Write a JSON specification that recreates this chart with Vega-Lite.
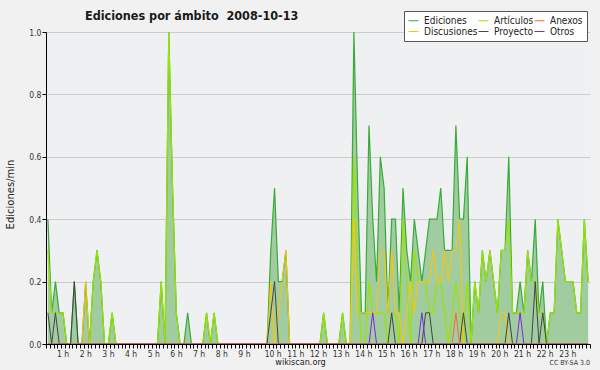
{
  "$schema": "https://vega.github.io/schema/vega-lite/v6.json",
  "width": 544,
  "height": 312,
  "autosize": {"type": "none"},
  "padding": {"left": 46, "top": 32, "right": 10, "bottom": 26},
  "background": "#f1f1f1",
  "title": {
    "text": "Ediciones por ámbito\u00a0 2008-10-13",
    "anchor": "start",
    "frame": "group",
    "dx": 39,
    "dy": 35,
    "offset": 13,
    "baseline": "alphabetic",
    "font": "DejaVu Sans Condensed, DejaVu Sans",
    "fontSize": 12.5,
    "fontWeight": "bold",
    "color": "#1a1a1a"
  },
  "config": {
    "view": {"fill": "#eef0f1", "stroke": null},
    "axis": {
      "labelFont": "DejaVu Sans Condensed, DejaVu Sans",
      "titleFont": "DejaVu Sans Condensed, DejaVu Sans",
      "domainColor": "#000000",
      "tickColor": "#000000",
      "labelColor": "#333333",
      "titleColor": "#222222"
    },
    "legend": {
      "labelFont": "DejaVu Sans Condensed, DejaVu Sans"
    }
  },
  "data": {
    "values": [
      {"t": 5, "ed": 0.4, "art": 0.3, "disc": 0, "proy": 0.1, "otros": 0, "anex": 0},
      {"t": 15, "ed": 0.1, "art": 0.1, "disc": 0, "proy": 0, "otros": 0, "anex": 0},
      {"t": 25, "ed": 0.2, "art": 0.1, "disc": 0, "proy": 0.1, "otros": 0, "anex": 0},
      {"t": 35, "ed": 0.1, "art": 0.1, "disc": 0, "proy": 0, "otros": 0, "anex": 0},
      {"t": 45, "ed": 0.1, "art": 0.1, "disc": 0, "proy": 0, "otros": 0, "anex": 0},
      {"t": 55, "ed": 0, "art": 0, "disc": 0, "proy": 0, "otros": 0, "anex": 0},
      {"t": 65, "ed": 0, "art": 0, "disc": 0, "proy": 0, "otros": 0, "anex": 0},
      {"t": 75, "ed": 0.2, "art": 0, "disc": 0, "proy": 0.2, "otros": 0, "anex": 0},
      {"t": 85, "ed": 0, "art": 0, "disc": 0, "proy": 0, "otros": 0, "anex": 0},
      {"t": 95, "ed": 0, "art": 0, "disc": 0, "proy": 0, "otros": 0, "anex": 0},
      {"t": 105, "ed": 0.2, "art": 0, "disc": 0.2, "proy": 0, "otros": 0, "anex": 0},
      {"t": 115, "ed": 0, "art": 0, "disc": 0, "proy": 0, "otros": 0, "anex": 0},
      {"t": 125, "ed": 0.2, "art": 0.2, "disc": 0, "proy": 0, "otros": 0, "anex": 0},
      {"t": 135, "ed": 0.3, "art": 0.3, "disc": 0, "proy": 0, "otros": 0, "anex": 0},
      {"t": 145, "ed": 0.2, "art": 0.2, "disc": 0, "proy": 0, "otros": 0, "anex": 0},
      {"t": 155, "ed": 0, "art": 0, "disc": 0, "proy": 0, "otros": 0, "anex": 0},
      {"t": 165, "ed": 0, "art": 0, "disc": 0, "proy": 0, "otros": 0, "anex": 0},
      {"t": 175, "ed": 0.1, "art": 0.1, "disc": 0, "proy": 0, "otros": 0, "anex": 0},
      {"t": 185, "ed": 0, "art": 0, "disc": 0, "proy": 0, "otros": 0, "anex": 0},
      {"t": 195, "ed": 0, "art": 0, "disc": 0, "proy": 0, "otros": 0, "anex": 0},
      {"t": 205, "ed": 0, "art": 0, "disc": 0, "proy": 0, "otros": 0, "anex": 0},
      {"t": 215, "ed": 0, "art": 0, "disc": 0, "proy": 0, "otros": 0, "anex": 0},
      {"t": 225, "ed": 0, "art": 0, "disc": 0, "proy": 0, "otros": 0, "anex": 0},
      {"t": 235, "ed": 0, "art": 0, "disc": 0, "proy": 0, "otros": 0, "anex": 0},
      {"t": 245, "ed": 0, "art": 0, "disc": 0, "proy": 0, "otros": 0, "anex": 0},
      {"t": 255, "ed": 0, "art": 0, "disc": 0, "proy": 0, "otros": 0, "anex": 0},
      {"t": 265, "ed": 0, "art": 0, "disc": 0, "proy": 0, "otros": 0, "anex": 0},
      {"t": 275, "ed": 0, "art": 0, "disc": 0, "proy": 0, "otros": 0, "anex": 0},
      {"t": 285, "ed": 0, "art": 0, "disc": 0, "proy": 0, "otros": 0, "anex": 0},
      {"t": 295, "ed": 0, "art": 0, "disc": 0, "proy": 0, "otros": 0, "anex": 0},
      {"t": 305, "ed": 0.2, "art": 0.2, "disc": 0, "proy": 0, "otros": 0, "anex": 0},
      {"t": 315, "ed": 0, "art": 0, "disc": 0, "proy": 0, "otros": 0, "anex": 0},
      {"t": 325, "ed": 1.0, "art": 1.0, "disc": 0, "proy": 0, "otros": 0, "anex": 0},
      {"t": 335, "ed": 0.5, "art": 0.5, "disc": 0, "proy": 0, "otros": 0, "anex": 0},
      {"t": 345, "ed": 0.1, "art": 0.1, "disc": 0, "proy": 0, "otros": 0, "anex": 0},
      {"t": 355, "ed": 0, "art": 0, "disc": 0, "proy": 0, "otros": 0, "anex": 0},
      {"t": 365, "ed": 0, "art": 0, "disc": 0, "proy": 0, "otros": 0, "anex": 0},
      {"t": 375, "ed": 0.1, "art": 0, "disc": 0, "proy": 0, "otros": 0, "anex": 0},
      {"t": 385, "ed": 0, "art": 0, "disc": 0, "proy": 0, "otros": 0, "anex": 0},
      {"t": 395, "ed": 0, "art": 0, "disc": 0, "proy": 0, "otros": 0, "anex": 0},
      {"t": 405, "ed": 0, "art": 0, "disc": 0, "proy": 0, "otros": 0, "anex": 0},
      {"t": 415, "ed": 0, "art": 0, "disc": 0, "proy": 0, "otros": 0, "anex": 0},
      {"t": 425, "ed": 0.1, "art": 0.1, "disc": 0, "proy": 0, "otros": 0, "anex": 0},
      {"t": 435, "ed": 0, "art": 0, "disc": 0, "proy": 0, "otros": 0, "anex": 0},
      {"t": 445, "ed": 0.1, "art": 0.1, "disc": 0, "proy": 0, "otros": 0, "anex": 0},
      {"t": 455, "ed": 0, "art": 0, "disc": 0, "proy": 0, "otros": 0, "anex": 0},
      {"t": 465, "ed": 0, "art": 0, "disc": 0, "proy": 0, "otros": 0, "anex": 0},
      {"t": 475, "ed": 0, "art": 0, "disc": 0, "proy": 0, "otros": 0, "anex": 0},
      {"t": 485, "ed": 0, "art": 0, "disc": 0, "proy": 0, "otros": 0, "anex": 0},
      {"t": 495, "ed": 0, "art": 0, "disc": 0, "proy": 0, "otros": 0, "anex": 0},
      {"t": 505, "ed": 0, "art": 0, "disc": 0, "proy": 0, "otros": 0, "anex": 0},
      {"t": 515, "ed": 0, "art": 0, "disc": 0, "proy": 0, "otros": 0, "anex": 0},
      {"t": 525, "ed": 0, "art": 0, "disc": 0, "proy": 0, "otros": 0, "anex": 0},
      {"t": 535, "ed": 0, "art": 0, "disc": 0, "proy": 0, "otros": 0, "anex": 0},
      {"t": 545, "ed": 0, "art": 0, "disc": 0, "proy": 0, "otros": 0, "anex": 0},
      {"t": 555, "ed": 0, "art": 0, "disc": 0, "proy": 0, "otros": 0, "anex": 0},
      {"t": 565, "ed": 0, "art": 0, "disc": 0, "proy": 0, "otros": 0, "anex": 0},
      {"t": 575, "ed": 0, "art": 0, "disc": 0, "proy": 0, "otros": 0, "anex": 0},
      {"t": 585, "ed": 0, "art": 0, "disc": 0, "proy": 0, "otros": 0, "anex": 0},
      {"t": 595, "ed": 0.3, "art": 0, "disc": 0.2, "proy": 0.1, "otros": 0, "anex": 0},
      {"t": 605, "ed": 0.5, "art": 0, "disc": 0, "proy": 0.2, "otros": 0, "anex": 0},
      {"t": 615, "ed": 0.2, "art": 0, "disc": 0.1, "proy": 0, "otros": 0, "anex": 0},
      {"t": 625, "ed": 0.2, "art": 0, "disc": 0.2, "proy": 0, "otros": 0, "anex": 0},
      {"t": 635, "ed": 0.3, "art": 0, "disc": 0.3, "proy": 0, "otros": 0, "anex": 0},
      {"t": 645, "ed": 0, "art": 0, "disc": 0, "proy": 0, "otros": 0, "anex": 0},
      {"t": 655, "ed": 0, "art": 0, "disc": 0, "proy": 0, "otros": 0, "anex": 0},
      {"t": 665, "ed": 0, "art": 0, "disc": 0, "proy": 0, "otros": 0, "anex": 0},
      {"t": 675, "ed": 0, "art": 0, "disc": 0, "proy": 0, "otros": 0, "anex": 0},
      {"t": 685, "ed": 0, "art": 0, "disc": 0, "proy": 0, "otros": 0, "anex": 0},
      {"t": 695, "ed": 0, "art": 0, "disc": 0, "proy": 0, "otros": 0, "anex": 0},
      {"t": 705, "ed": 0, "art": 0, "disc": 0, "proy": 0, "otros": 0, "anex": 0},
      {"t": 715, "ed": 0, "art": 0, "disc": 0, "proy": 0, "otros": 0, "anex": 0},
      {"t": 725, "ed": 0, "art": 0, "disc": 0, "proy": 0, "otros": 0, "anex": 0},
      {"t": 735, "ed": 0.1, "art": 0.1, "disc": 0, "proy": 0, "otros": 0, "anex": 0},
      {"t": 745, "ed": 0, "art": 0, "disc": 0, "proy": 0, "otros": 0, "anex": 0},
      {"t": 755, "ed": 0, "art": 0, "disc": 0, "proy": 0, "otros": 0, "anex": 0},
      {"t": 765, "ed": 0, "art": 0, "disc": 0, "proy": 0, "otros": 0, "anex": 0},
      {"t": 775, "ed": 0, "art": 0, "disc": 0, "proy": 0, "otros": 0, "anex": 0},
      {"t": 785, "ed": 0.1, "art": 0.1, "disc": 0, "proy": 0, "otros": 0, "anex": 0},
      {"t": 795, "ed": 0, "art": 0, "disc": 0, "proy": 0, "otros": 0, "anex": 0},
      {"t": 805, "ed": 0, "art": 0, "disc": 0, "proy": 0, "otros": 0, "anex": 0},
      {"t": 815, "ed": 1.0, "art": 0.6, "disc": 0.4, "proy": 0, "otros": 0, "anex": 0},
      {"t": 825, "ed": 0.5, "art": 0.2, "disc": 0.1, "proy": 0, "otros": 0, "anex": 0},
      {"t": 835, "ed": 0.1, "art": 0, "disc": 0.1, "proy": 0, "otros": 0, "anex": 0},
      {"t": 845, "ed": 0.1, "art": 0, "disc": 0.1, "proy": 0, "otros": 0, "anex": 0},
      {"t": 855, "ed": 0.7, "art": 0.2, "disc": 0.1, "proy": 0, "otros": 0, "anex": 0},
      {"t": 865, "ed": 0.4, "art": 0.1, "disc": 0.1, "proy": 0, "otros": 0.1, "anex": 0},
      {"t": 875, "ed": 0.2, "art": 0.1, "disc": 0.1, "proy": 0, "otros": 0, "anex": 0},
      {"t": 885, "ed": 0.6, "art": 0.1, "disc": 0.3, "proy": 0, "otros": 0, "anex": 0},
      {"t": 895, "ed": 0.5, "art": 0.1, "disc": 0.3, "proy": 0, "otros": 0, "anex": 0},
      {"t": 905, "ed": 0.1, "art": 0, "disc": 0.1, "proy": 0, "otros": 0, "anex": 0},
      {"t": 915, "ed": 0.4, "art": 0.1, "disc": 0.3, "proy": 0.1, "otros": 0, "anex": 0},
      {"t": 925, "ed": 0.4, "art": 0.1, "disc": 0.1, "proy": 0, "otros": 0, "anex": 0},
      {"t": 935, "ed": 0.1, "art": 0, "disc": 0.1, "proy": 0, "otros": 0, "anex": 0},
      {"t": 945, "ed": 0.5, "art": 0.4, "disc": 0, "proy": 0, "otros": 0, "anex": 0},
      {"t": 955, "ed": 0.3, "art": 0.2, "disc": 0.1, "proy": 0, "otros": 0, "anex": 0},
      {"t": 965, "ed": 0.2, "art": 0, "disc": 0.2, "proy": 0, "otros": 0, "anex": 0},
      {"t": 975, "ed": 0.4, "art": 0.3, "disc": 0.1, "proy": 0, "otros": 0, "anex": 0},
      {"t": 985, "ed": 0.3, "art": 0.2, "disc": 0.2, "proy": 0, "otros": 0, "anex": 0},
      {"t": 995, "ed": 0.2, "art": 0.2, "disc": 0.2, "proy": 0, "otros": 0.1, "anex": 0},
      {"t": 1005, "ed": 0.3, "art": 0.2, "disc": 0.2, "proy": 0.1, "otros": 0, "anex": 0},
      {"t": 1015, "ed": 0.4, "art": 0.1, "disc": 0.2, "proy": 0.1, "otros": 0, "anex": 0},
      {"t": 1025, "ed": 0.4, "art": 0.1, "disc": 0.3, "proy": 0, "otros": 0, "anex": 0},
      {"t": 1035, "ed": 0.4, "art": 0.2, "disc": 0.2, "proy": 0, "otros": 0, "anex": 0},
      {"t": 1045, "ed": 0.5, "art": 0.2, "disc": 0.2, "proy": 0, "otros": 0, "anex": 0},
      {"t": 1055, "ed": 0.3, "art": 0.1, "disc": 0.3, "proy": 0, "otros": 0, "anex": 0},
      {"t": 1065, "ed": 0.3, "art": 0, "disc": 0.2, "proy": 0, "otros": 0, "anex": 0},
      {"t": 1075, "ed": 0.3, "art": 0.1, "disc": 0.3, "proy": 0, "otros": 0, "anex": 0},
      {"t": 1085, "ed": 0.7, "art": 0.2, "disc": 0.3, "proy": 0, "otros": 0, "anex": 0.1},
      {"t": 1095, "ed": 0.4, "art": 0.1, "disc": 0.4, "proy": 0, "otros": 0, "anex": 0},
      {"t": 1105, "ed": 0.4, "art": 0, "disc": 0, "proy": 0.1, "otros": 0, "anex": 0},
      {"t": 1115, "ed": 0.6, "art": 0.2, "disc": 0, "proy": 0, "otros": 0, "anex": 0},
      {"t": 1125, "ed": 0, "art": 0, "disc": 0, "proy": 0, "otros": 0, "anex": 0},
      {"t": 1135, "ed": 0.2, "art": 0.2, "disc": 0, "proy": 0, "otros": 0, "anex": 0},
      {"t": 1145, "ed": 0.1, "art": 0.1, "disc": 0, "proy": 0, "otros": 0, "anex": 0},
      {"t": 1155, "ed": 0.3, "art": 0.3, "disc": 0, "proy": 0, "otros": 0, "anex": 0},
      {"t": 1165, "ed": 0.2, "art": 0.2, "disc": 0, "proy": 0, "otros": 0, "anex": 0},
      {"t": 1175, "ed": 0.3, "art": 0.3, "disc": 0, "proy": 0, "otros": 0, "anex": 0},
      {"t": 1185, "ed": 0.2, "art": 0.2, "disc": 0, "proy": 0, "otros": 0, "anex": 0},
      {"t": 1195, "ed": 0.1, "art": 0.1, "disc": 0, "proy": 0, "otros": 0, "anex": 0},
      {"t": 1205, "ed": 0.3, "art": 0.3, "disc": 0.1, "proy": 0, "otros": 0, "anex": 0},
      {"t": 1215, "ed": 0.3, "art": 0.3, "disc": 0.1, "proy": 0, "otros": 0, "anex": 0},
      {"t": 1225, "ed": 0.6, "art": 0.4, "disc": 0, "proy": 0.1, "otros": 0, "anex": 0},
      {"t": 1235, "ed": 0.1, "art": 0.1, "disc": 0, "proy": 0, "otros": 0, "anex": 0},
      {"t": 1245, "ed": 0.1, "art": 0.1, "disc": 0, "proy": 0, "otros": 0, "anex": 0},
      {"t": 1255, "ed": 0.2, "art": 0.1, "disc": 0, "proy": 0, "otros": 0.1, "anex": 0},
      {"t": 1265, "ed": 0.1, "art": 0.1, "disc": 0, "proy": 0, "otros": 0, "anex": 0},
      {"t": 1275, "ed": 0.3, "art": 0.3, "disc": 0, "proy": 0, "otros": 0, "anex": 0},
      {"t": 1285, "ed": 0.2, "art": 0.2, "disc": 0, "proy": 0, "otros": 0, "anex": 0},
      {"t": 1295, "ed": 0.4, "art": 0.2, "disc": 0, "proy": 0.2, "otros": 0, "anex": 0},
      {"t": 1305, "ed": 0.1, "art": 0.1, "disc": 0, "proy": 0, "otros": 0, "anex": 0},
      {"t": 1315, "ed": 0.2, "art": 0.1, "disc": 0, "proy": 0.1, "otros": 0, "anex": 0},
      {"t": 1325, "ed": 0, "art": 0, "disc": 0, "proy": 0, "otros": 0, "anex": 0},
      {"t": 1335, "ed": 0.1, "art": 0.1, "disc": 0, "proy": 0, "otros": 0, "anex": 0},
      {"t": 1345, "ed": 0.1, "art": 0.1, "disc": 0, "proy": 0, "otros": 0, "anex": 0},
      {"t": 1355, "ed": 0.4, "art": 0.4, "disc": 0, "proy": 0, "otros": 0, "anex": 0},
      {"t": 1365, "ed": 0.3, "art": 0.3, "disc": 0, "proy": 0, "otros": 0, "anex": 0},
      {"t": 1375, "ed": 0.2, "art": 0.2, "disc": 0, "proy": 0, "otros": 0, "anex": 0},
      {"t": 1385, "ed": 0.2, "art": 0.2, "disc": 0, "proy": 0, "otros": 0, "anex": 0},
      {"t": 1395, "ed": 0.2, "art": 0.2, "disc": 0, "proy": 0, "otros": 0, "anex": 0},
      {"t": 1405, "ed": 0.1, "art": 0.1, "disc": 0, "proy": 0, "otros": 0, "anex": 0},
      {"t": 1415, "ed": 0.1, "art": 0.1, "disc": 0, "proy": 0, "otros": 0, "anex": 0},
      {"t": 1425, "ed": 0.4, "art": 0.4, "disc": 0, "proy": 0, "otros": 0, "anex": 0},
      {"t": 1435, "ed": 0.2, "art": 0.2, "disc": 0, "proy": 0, "otros": 0, "anex": 0}
    ]
  },
  "encoding": {
    "x": {
      "field": "t",
      "type": "quantitative",
      "scale": {"domain": [0, 1440], "nice": false, "zero": false},
      "axis": {
        "zindex": 1,
        "values": [0,10,20,30,40,50,60,70,80,90,100,110,120,130,140,150,160,170,180,190,200,210,220,230,240,250,260,270,280,290,300,310,320,330,340,350,360,370,380,390,400,410,420,430,440,450,460,470,480,490,500,510,520,530,540,550,560,570,580,590,600,610,620,630,640,650,660,670,680,690,700,710,720,730,740,750,760,770,780,790,800,810,820,830,840,850,860,870,880,890,900,910,920,930,940,950,960,970,980,990,1000,1010,1020,1030,1040,1050,1060,1070,1080,1090,1100,1110,1120,1130,1140,1150,1160,1170,1180,1190,1200,1210,1220,1230,1240,1250,1260,1270,1280,1290,1300,1310,1320,1330,1340,1350,1360,1370,1380,1390,1400,1410,1420,1430,1440],
        "labelExpr": "(datum.value % 60 == 0 && datum.value > 0 && datum.value < 1440) ? (datum.value / 60) + ' h' : ''",
        "labelAlign": {"condition": {"test": "datum.value < 600", "value": "right"}, "value": "center"},
        "labelOverlap": false,
        "labelFlush": false,
        "labelBound": false,
        "labelFontSize": 8.5,
        "labelPadding": 1,
        "tickSize": 4,
        "grid": false,
        "title": "wikiscan.org",
        "titleFontSize": 9,
        "titleFontWeight": "normal",
        "titleX": 254,
        "titleY": 20.5,
        "titleAlign": "center",
        "titleBaseline": "alphabetic"
      }
    }
  },
  "layer": [
    {
      "mark": {"type": "area", "color": "#a0cca0", "interpolate": "linear"},
      "encoding": {
        "y": {
          "field": "ed",
          "type": "quantitative",
          "scale": {"domain": [0, 1], "nice": false, "zero": true},
          "axis": {
            "values": [0,0.05,0.1,0.15,0.2,0.25,0.3,0.35,0.4,0.45,0.5,0.55,0.6,0.65,0.7,0.75,0.8,0.85,0.9,0.95,1.0],
            "labelExpr": "abs(datum.value * 5 - round(datum.value * 5)) < 0.001 ? format(datum.value, '.1f') : ''",
            "labelOverlap": false,
            "labelFlush": false,
            "labelBound": false,
            "labelFontSize": 8.5,
            "labelPadding": 1,
            "tickSize": 4,
            "grid": true,
            "gridColor": "#cccccc",
            "gridOpacity": {"condition": {"test": "abs(datum.value * 5 - round(datum.value * 5)) < 0.001 && datum.value > 0", "value": 1}, "value": 0},
            "title": "Ediciones/min",
            "titleFont": "DejaVu Sans",
            "titleFontSize": 10,
            "titleFontWeight": "normal",
            "titleX": -36,
            "titleY": 162,
            "titleAngle": -90,
            "titleAlign": "center",
            "titleBaseline": "middle"
          }
        }
      }
    },
    {
      "mark": {"type": "line", "strokeWidth": 1.2},
      "encoding": {
        "y": {"field": "ed", "type": "quantitative"},
        "color": {
          "datum": "Ediciones",
          "type": "nominal",
          "scale": {
            "domain": ["Ediciones", "Artículos", "Anexos", "Discusiones", "Proyecto", "Otros"],
            "range": ["#3aaa3a", "#9be300", "#ff6633", "#ffc600", "#444444", "#7b2be0"]
          },
          "legend": {
            "title": null,
            "orient": "none",
            "legendX": 358,
            "legendY": -21,
            "columns": 3,
            "direction": "horizontal",
            "fillColor": "#ffffff",
            "strokeColor": "#555555",
            "padding": 4,
            "labelFontSize": 10,
            "labelColor": "#222222",
            "labelOffset": 5,
            "symbolType": "stroke",
            "symbolSize": 100,
            "symbolStrokeWidth": 1,
            "rowPadding": 0,
            "columnPadding": -2
          }
        }
      }
    },
    {
      "mark": {"type": "line", "strokeWidth": 1.2},
      "encoding": {"y": {"field": "art", "type": "quantitative"}, "color": {"datum": "Artículos", "type": "nominal"}}
    },
    {
      "mark": {"type": "line", "strokeWidth": 1},
      "encoding": {"y": {"field": "disc", "type": "quantitative"}, "color": {"datum": "Discusiones", "type": "nominal"}}
    },
    {
      "mark": {"type": "line", "strokeWidth": 1},
      "encoding": {"y": {"field": "proy", "type": "quantitative"}, "color": {"datum": "Proyecto", "type": "nominal"}}
    },
    {
      "mark": {"type": "line", "strokeWidth": 1},
      "encoding": {"y": {"field": "otros", "type": "quantitative"}, "color": {"datum": "Otros", "type": "nominal"}}
    },
    {
      "mark": {"type": "line", "strokeWidth": 1},
      "encoding": {"y": {"field": "anex", "type": "quantitative"}, "color": {"datum": "Anexos", "type": "nominal"}}
    },
    {
      "transform": [{"filter": "datum.t == 1435"}],
      "mark": {"type": "text", "text": "CC BY-SA 3.0", "align": "right", "baseline": "alphabetic", "dy": 21, "fontSize": 7, "font": "DejaVu Sans Condensed, DejaVu Sans", "color": "#333333"},
      "encoding": {"x": {"datum": 1440}, "y": {"datum": 0}}
    }
  ]
}
